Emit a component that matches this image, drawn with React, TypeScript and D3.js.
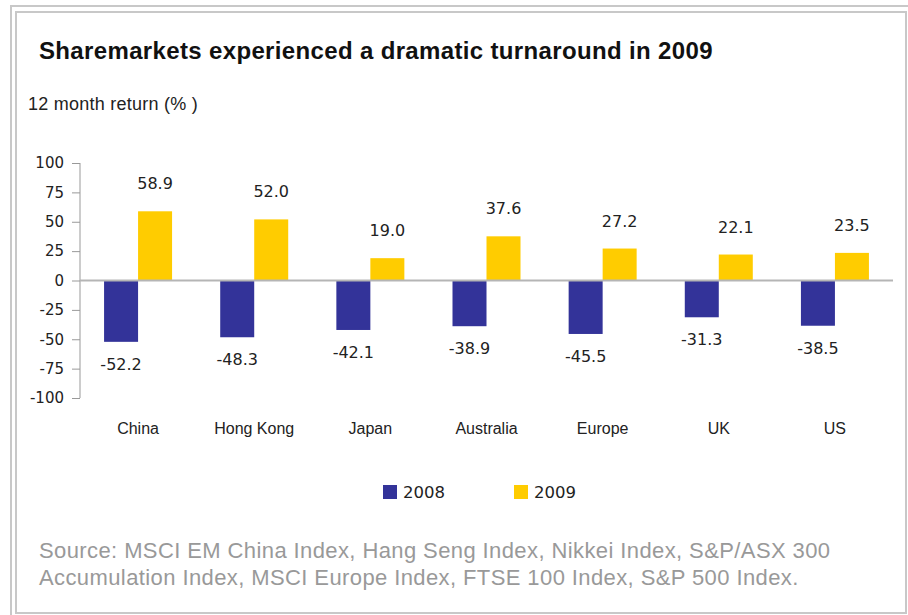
import React from 'react';
import * as d3 from 'd3';

const markets = ['China', 'Hong Kong', 'Japan', 'Australia', 'Europe', 'UK', 'US'];
const years = ['2008', '2009'];
const returns2008 = [-52.2, -48.3, -42.1, -38.9, -45.5, -31.3, -38.5];
const returns2009 = [58.9, 52.0, 19.0, 37.6, 27.2, 22.1, 23.5];
const yTicks = [100, 75, 50, 25, 0, -25, -50, -75, -100];
const colors = ['#333399', '#ffcc00'];
const sourceLines = [
  'Source: MSCI EM China Index, Hang Seng Index, Nikkei Index, S&P/ASX 300',
  'Accumulation Index, MSCI Europe Index, FTSE 100 Index, S&P 500 Index.',
];

const W = 908;
const H = 615;
const plot = { left: 80, right: 893, top: 163, bottom: 398 };

const App: React.FC = () => {
  const ref = React.useRef<SVGSVGElement>(null);

  React.useEffect(() => {
    const svg = d3.select(ref.current);
    svg.selectAll('*').remove();

    const series = [returns2008, returns2009];

    const x0 = d3.scaleBand().domain(markets).range([plot.left, plot.right]);
    const x1 = d3.scaleBand().domain(years).range([-34, 34]);
    const y = d3.scaleLinear().domain([-100, 100]).range([plot.bottom, plot.top]);

    // frame
    svg.append('line').attr('x1', 10).attr('x2', W).attr('y1', 6).attr('y2', 6)
      .attr('stroke', '#c8c8c8').attr('stroke-width', 2);
    svg.append('line').attr('x1', 11).attr('x2', 11).attr('y1', 5).attr('y2', H)
      .attr('stroke', '#c8c8c8').attr('stroke-width', 2);
    svg.append('rect').attr('x', 16).attr('y', 12).attr('width', 890).attr('height', 601)
      .attr('fill', 'none').attr('stroke', '#c8c8c8').attr('stroke-width', 2);

    svg.append('text').attr('x', 39).attr('y', 59)
      .attr('font-family', 'Liberation Sans, Arial, sans-serif').attr('font-weight', 'bold')
      .attr('font-size', 24).attr('letter-spacing', 0.35).attr('fill', '#111')
      .text('Sharemarkets experienced a dramatic turnaround in 2009');

    svg.append('text').attr('x', 28).attr('y', 110)
      .attr('font-family', 'Liberation Sans, Arial, sans-serif')
      .attr('font-size', 18).attr('letter-spacing', 0.25).attr('fill', '#222')
      .text('12 month return (% )');

    // y axis
    const yAxis = svg.append('g').attr('transform', `translate(${plot.left},0)`)
      .call(d3.axisLeft(y).tickValues(yTicks).tickSize(8).tickPadding(8).tickFormat(d3.format('d')));
    yAxis.select('.domain').attr('stroke', '#999').attr('d', `M-0,${plot.top}V${plot.bottom}`);
    yAxis.selectAll('.tick line').attr('stroke', '#999');
    yAxis.selectAll('.tick text')
      .attr('font-family', 'DejaVu Sans, Verdana, sans-serif').attr('font-size', 15).attr('fill', '#222')
      .text((d) => String(d));

    // bars
    series.forEach((vals, si) => {
      svg.append('g').selectAll('rect').data(vals).enter().append('rect')
        .attr('x', (_, i) => x0(markets[i])! + x0.bandwidth() / 2 + x1(years[si])!)
        .attr('y', (d) => y(Math.max(0, d)))
        .attr('width', x1.bandwidth())
        .attr('height', (d) => Math.abs(y(d) - y(0)))
        .attr('fill', colors[si]);

      svg.append('g').selectAll('text').data(vals).enter().append('text')
        .attr('x', (_, i) => x0(markets[i])! + x0.bandwidth() / 2 + x1(years[si])! + x1.bandwidth() / 2)
        .attr('y', (d) => (d < 0 ? y(d) + 28 : y(d) - 22))
        .attr('text-anchor', 'middle')
        .attr('font-family', 'DejaVu Sans, Verdana, sans-serif').attr('font-size', 16).attr('fill', '#222')
        .text((d) => d.toFixed(1));
    });

    // zero line
    svg.append('line').attr('x1', plot.left).attr('x2', plot.right)
      .attr('y1', y(0)).attr('y2', y(0)).attr('stroke', '#b5b5b5').attr('stroke-width', 2);

    // categories
    svg.append('g').selectAll('text').data(markets).enter().append('text')
      .attr('x', (d) => x0(d)! + x0.bandwidth() / 2)
      .attr('y', 434)
      .attr('text-anchor', 'middle')
      .attr('font-family', 'Liberation Sans, Arial, sans-serif').attr('font-size', 16).attr('fill', '#222')
      .text((d) => d);

    // legend
    const legendX = [383, 514];
    years.forEach((yr, i) => {
      svg.append('rect').attr('x', legendX[i]).attr('y', 485).attr('width', 14).attr('height', 14)
        .attr('fill', colors[i]);
      svg.append('text').attr('x', legendX[i] + 20).attr('y', 498)
        .attr('font-family', 'DejaVu Sans, Verdana, sans-serif').attr('font-size', 16.5).attr('fill', '#222')
        .text(yr);
    });

    // source
    svg.append('g').selectAll('text').data(sourceLines).enter().append('text')
      .attr('x', 39).attr('y', (_, i) => 558 + i * 27)
      .attr('font-family', 'Liberation Sans, Arial, sans-serif').attr('font-size', 22)
      .attr('letter-spacing', 0.4).attr('fill', '#999')
      .text((d) => d);
  }, []);

  return (
    <div style={{ position: 'absolute', left: 0, top: 0 }}>
      <svg ref={ref} width={W} height={H} style={{ display: 'block', background: '#fff' }} />
    </div>
  );
};

export default App;
